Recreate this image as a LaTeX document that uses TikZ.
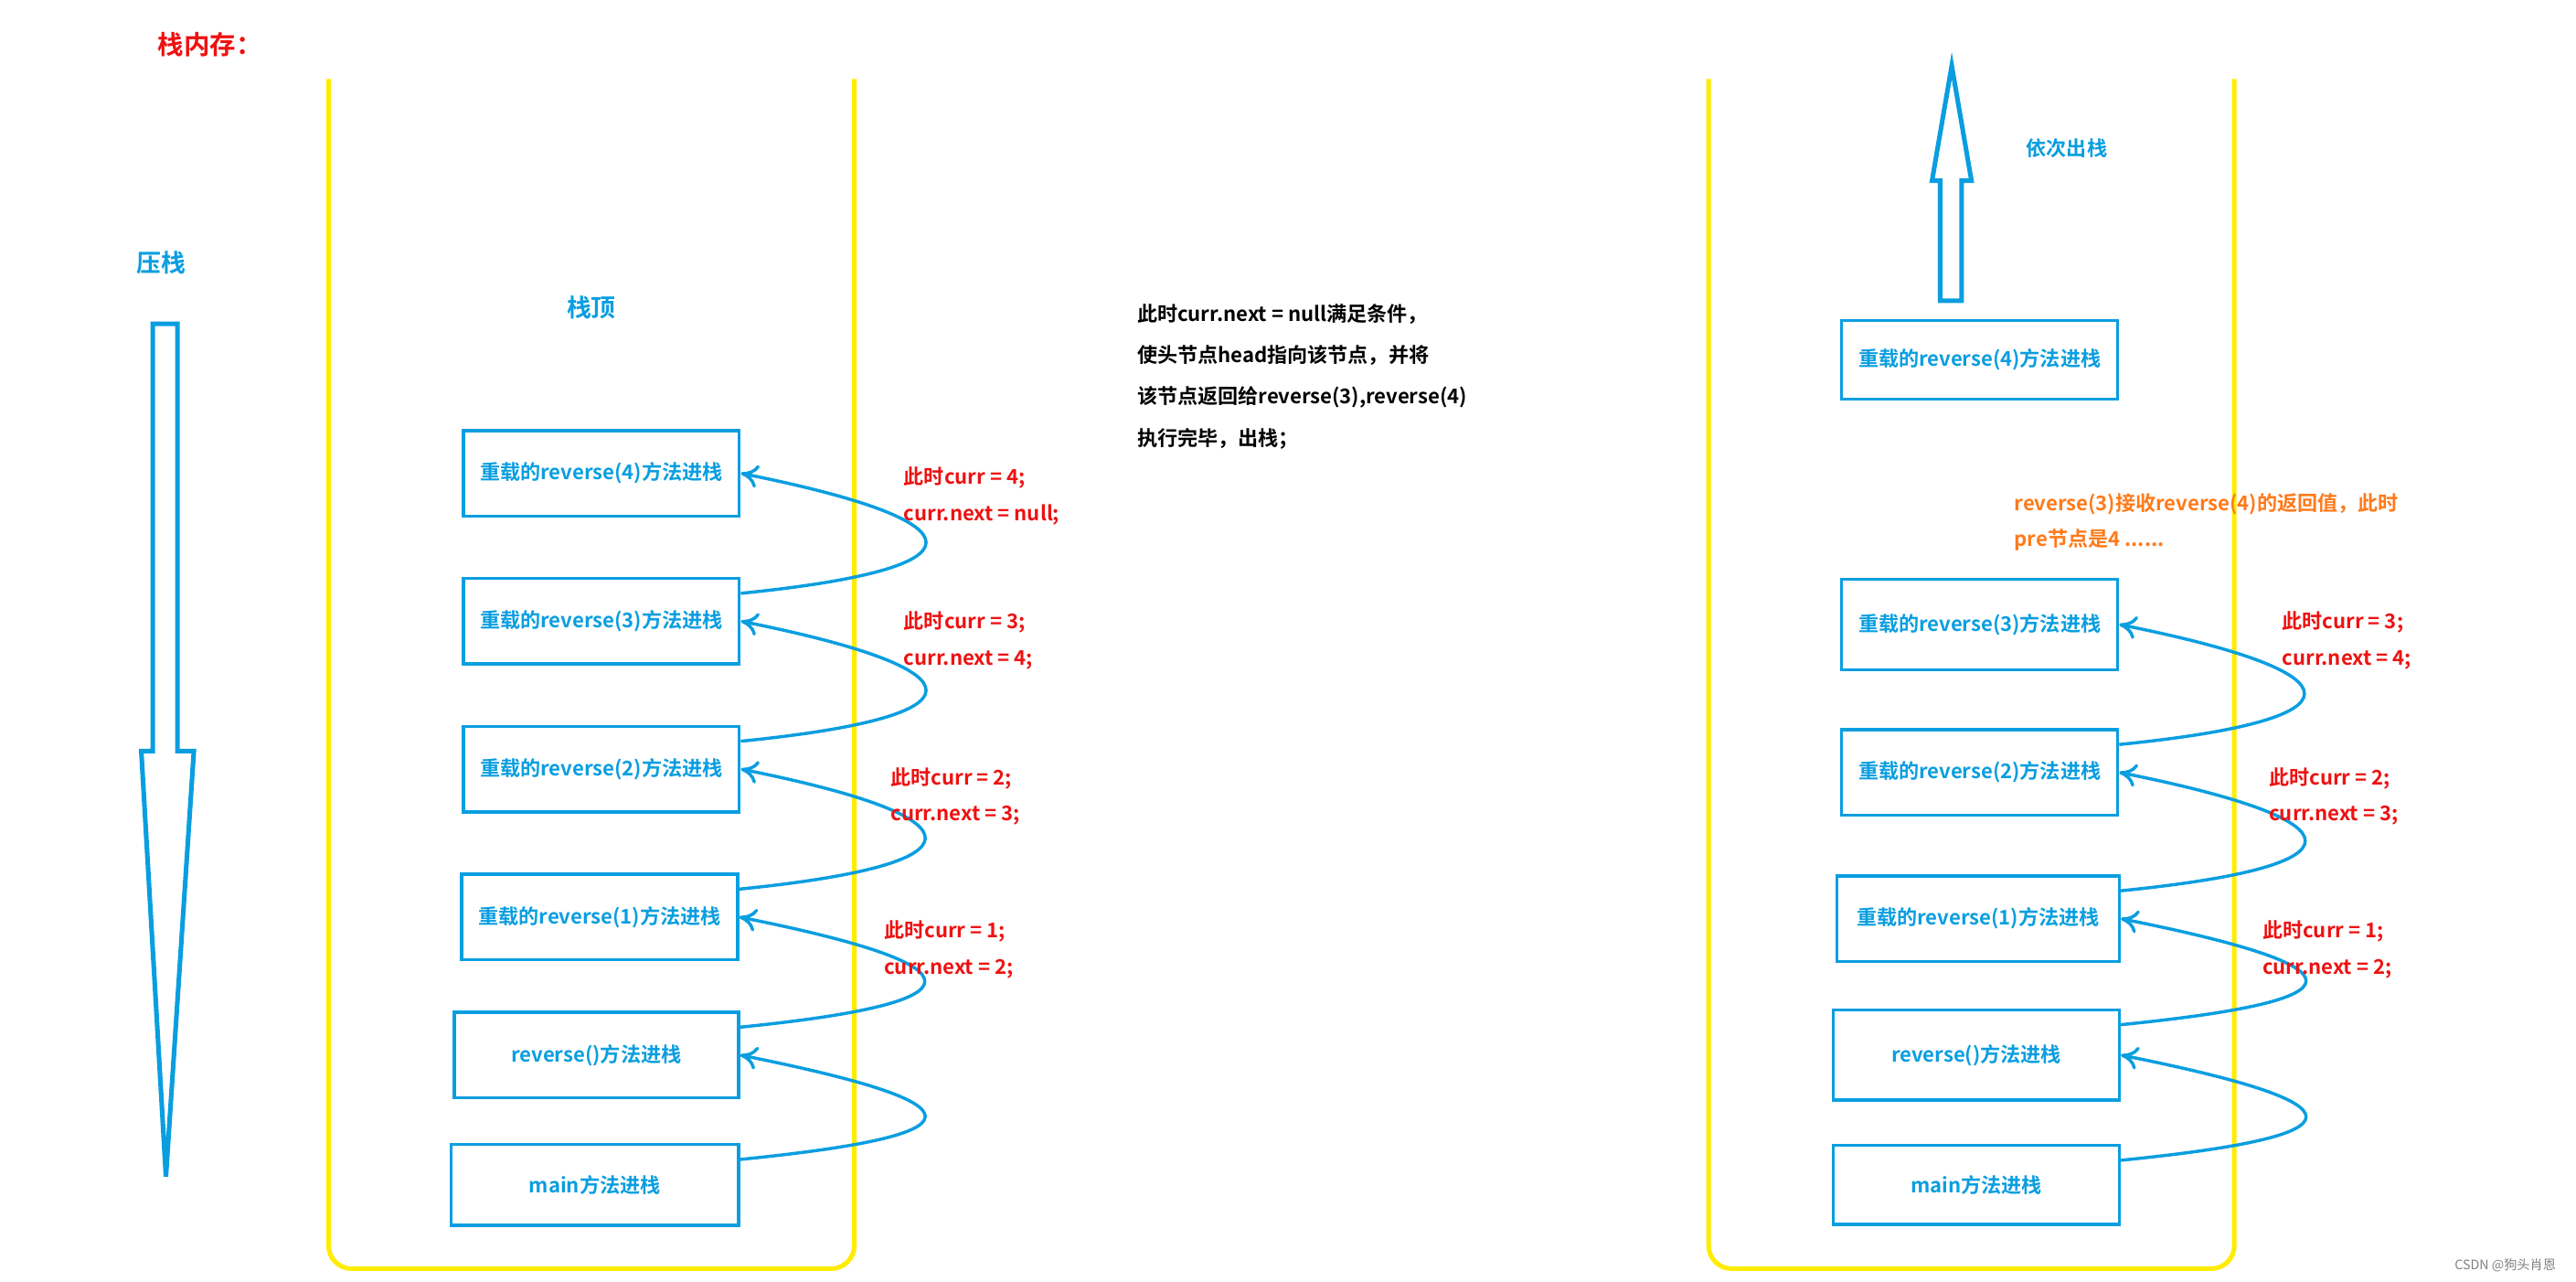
\documentclass[tikz,border=0pt]{standalone}
\usepackage{fontspec}
\setmainfont{Noto Sans CJK SC}[BoldFont={Noto Sans CJK SC Bold}]
\usetikzlibrary{positioning,arrows.meta}
\definecolor{skyb}{HTML}{0A9EE0}
\definecolor{yell}{HTML}{FFEC00}
\definecolor{redt}{HTML}{EE1111}
\definecolor{orng}{HTML}{FF7A1A}

\begin{document}
\begin{tikzpicture}[
x=0.02cm,y=-0.02cm,
box/.style={
  draw=skyb,
  line width=1.1pt,
  text=skyb,
  font=\fontsize{7pt}{8pt}\selectfont\bfseries,
  minimum width=3.36cm,
  minimum height=1.04cm,
  inner sep=0pt
},
ret/.style={
  draw=skyb,
  line width=1.1pt,
  -{To[length=6pt,width=8pt]}
},
note/.style={
  text=redt,
  font=\fontsize{7pt}{12.5pt}\selectfont\bfseries,
  align=left,
  anchor=north west
},
wall/.style={
  draw=yell,
  line width=1.6pt,
  rounded corners=8
}
]
\useasboundingbox (0,0) rectangle (1568,780);

\node[text=redt,font=\fontsize{9pt}{10pt}\selectfont\bfseries,anchor=west] (title) at (90,27) {栈内存：};
\node[text=skyb,font=\fontsize{8.5pt}{10pt}\selectfont\bfseries] (push) at (98,160) {压栈};
\node[text=skyb,font=\fontsize{8.5pt}{10pt}\selectfont\bfseries] (top) at (360,187) {栈顶};
\node[text=skyb,font=\fontsize{7pt}{8pt}\selectfont\bfseries] (pop) at (1258,90) {依次出栈};

% big arrows
\draw[skyb,line width=1.6pt,line join=miter] (93,197) -- (108,197) -- (108,457) -- (118,457) -- (101,716) -- (86,457) -- (93,457) -- cycle;
\draw[skyb,line width=1.6pt,line join=miter] (1181,183) -- (1194,183) -- (1194,110) -- (1200,110) -- (1188,40) -- (1176,110) -- (1181,110) -- cycle;

% stacks
\draw[wall] (200,48) -- (200,772) -- (520,772) -- (520,48);
\draw[wall] (1040,48) -- (1040,772) -- (1360,772) -- (1360,48);

% left stack
\node[box] (l4) at (366,288) {重载的reverse(4)方法进栈};
\node[box] (l3) at (366,378) {重载的reverse(3)方法进栈};
\node[box] (l2) at (366,468) {重载的reverse(2)方法进栈};
\node[box] (l1) at (365,558) {重载的reverse(1)方法进栈};
\node[box,minimum width=3.46cm] (l0) at (363,642) {reverse()方法进栈};
\node[box,minimum width=3.5cm,minimum height=0.98cm] (lm) at (362,721) {main方法进栈};

\foreach \a/\b in {l3/l4,l2/l3,l1/l2,l0/l1,lm/l0}{
  \draw[ret] ([yshift=-0.2cm]\a.north east) .. controls +(150,-15) and +(150,30) .. (\b.east);
}

\node[note] (n4) at (544,278) {此时curr = 4;\\curr.next = null;};
\node[note] (n3) at (544,366) {此时curr = 3;\\curr.next = 4;};
\node[note] (n2) at (536,461) {此时curr = 2;\\curr.next = 3;};
\node[note] (n1) at (532,554) {此时curr = 1;\\curr.next = 2;};

\node[note,text=black,font=\fontsize{7pt}{14.3pt}\selectfont\bfseries] (done) at (686,179)
  {此时curr.next = null满足条件，\\使头节点head指向该节点，并将\\该节点返回给reverse(3),reverse(4)\\执行完毕，出栈；};

% right stack
\node[box,minimum height=0.96cm] (r4) at (1205,219) {重载的reverse(4)方法进栈};
\node[box,minimum height=1.1cm] (r3) at (1205,380) {重载的reverse(3)方法进栈};
\node[box] (r2) at (1205,470) {重载的reverse(2)方法进栈};
\node[box,minimum width=3.44cm] (r1) at (1204,559) {重载的reverse(1)方法进栈};
\node[box,minimum width=3.48cm,minimum height=1.1cm] (r0) at (1203,642) {reverse()方法进栈};
\node[box,minimum width=3.48cm,minimum height=0.96cm] (rm) at (1203,721) {main方法进栈};

\foreach \a/\b in {r2/r3,r1/r2,r0/r1,rm/r0}{
  \draw[ret] ([yshift=-0.2cm]\a.north east) .. controls +(150,-15) and +(150,30) .. (\b.east);
}

\node[note,text=orng] (recv) at (1220,294) {reverse(3)接收reverse(4)的返回值，此时\\pre节点是4 ......};
\node[note] (m3) at (1383,366) {此时curr = 3;\\curr.next = 4;};
\node[note] (m2) at (1375,461) {此时curr = 2;\\curr.next = 3;};
\node[note] (m1) at (1371,554) {此时curr = 1;\\curr.next = 2;};

\node[text=gray,font=\fontsize{4.5pt}{5pt}\selectfont,anchor=east] (mark) at (1562,770) {CSDN @狗头肖恩};
\end{tikzpicture}
\end{document}
